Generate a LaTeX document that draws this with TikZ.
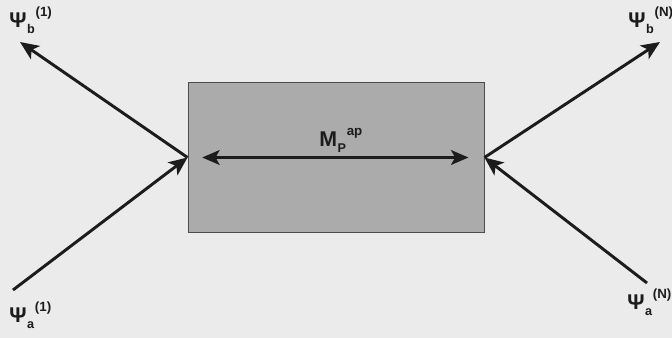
\documentclass[tikz,border=0pt]{standalone}
\usepackage{fontspec}
\setmainfont{Liberation Sans}
\usepackage{xcolor}
\usetikzlibrary{positioning, arrows.meta}

\definecolor{bggray}{HTML}{EBEBEB}
\definecolor{boxgray}{HTML}{ABABAB}
\definecolor{inkgray}{HTML}{1C1C1C}

% label with subscript and a raised superscript after it
\newcommand{\wavelbl}[3]{#1\kern0.5pt\raisebox{-4.5pt}{\fontsize{9.5}{10}\selectfont #2}\kern0.5pt\raisebox{8.5pt}{\fontsize{10}{11}\selectfont #3}}

\begin{document}
\begin{tikzpicture}[
    x=0.75pt, y=-0.75pt,
    every node/.style={font=\bfseries\fontsize{16}{19}\selectfont, text=inkgray},
    blockbox/.style={draw=gray!60!black, line width=0.7pt, fill=boxgray, minimum width=222pt, minimum height=113pt, inner sep=0pt},
    lbl/.style={anchor=base west, inner sep=0pt},
    arrow/.style={-{Stealth[length=14pt, width=12pt, inset=3.5pt]}, line width=2.2pt, inkgray},
    darrow/.style={{Stealth[length=13pt, width=11pt, inset=3pt]}-{Stealth[length=13pt, width=11pt, inset=3pt]}, line width=2.2pt, inkgray},
  ]

  % ---- Background ----
  \fill[bggray] (0,0) rectangle (672,338);
  \useasboundingbox (0,0) rectangle (672,338);

  % ---- Block ----
  \node[blockbox] (block) at (336,157.5) {};
  \node[lbl] (mlbl) at (319,147) {\wavelbl{M}{P}{ap}};

  % ---- Free ends ----
  \coordinate (bout1) at (20,42);
  \coordinate (ain1) at (13,290);
  \coordinate (boutn) at (660,42);
  \coordinate (ainn) at (647,283);

  % ---- Labels ----
  \node[lbl] (psib1) at (9,28) {\wavelbl{Ψ}{b}{(1)}};
  \node[lbl] (psia1) at (9,323) {\wavelbl{Ψ}{a}{(1)}};
  \node[lbl] (psibn) at (628,28) {\wavelbl{Ψ}{b}{(N)}};
  \node[lbl] (psian) at (627,310) {\wavelbl{Ψ}{a}{(N)}};

  % ---- Arrows ----
  \draw[arrow] (block.west) -- (bout1);
  \draw[arrow] (ain1) -- (block.west);
  \draw[arrow] (block.east) -- (boutn);
  \draw[arrow] (ainn) -- (block.east);
  \draw[darrow] ([xshift=11pt]block.west) -- ([xshift=-12pt]block.east);

\end{tikzpicture}
\end{document}
